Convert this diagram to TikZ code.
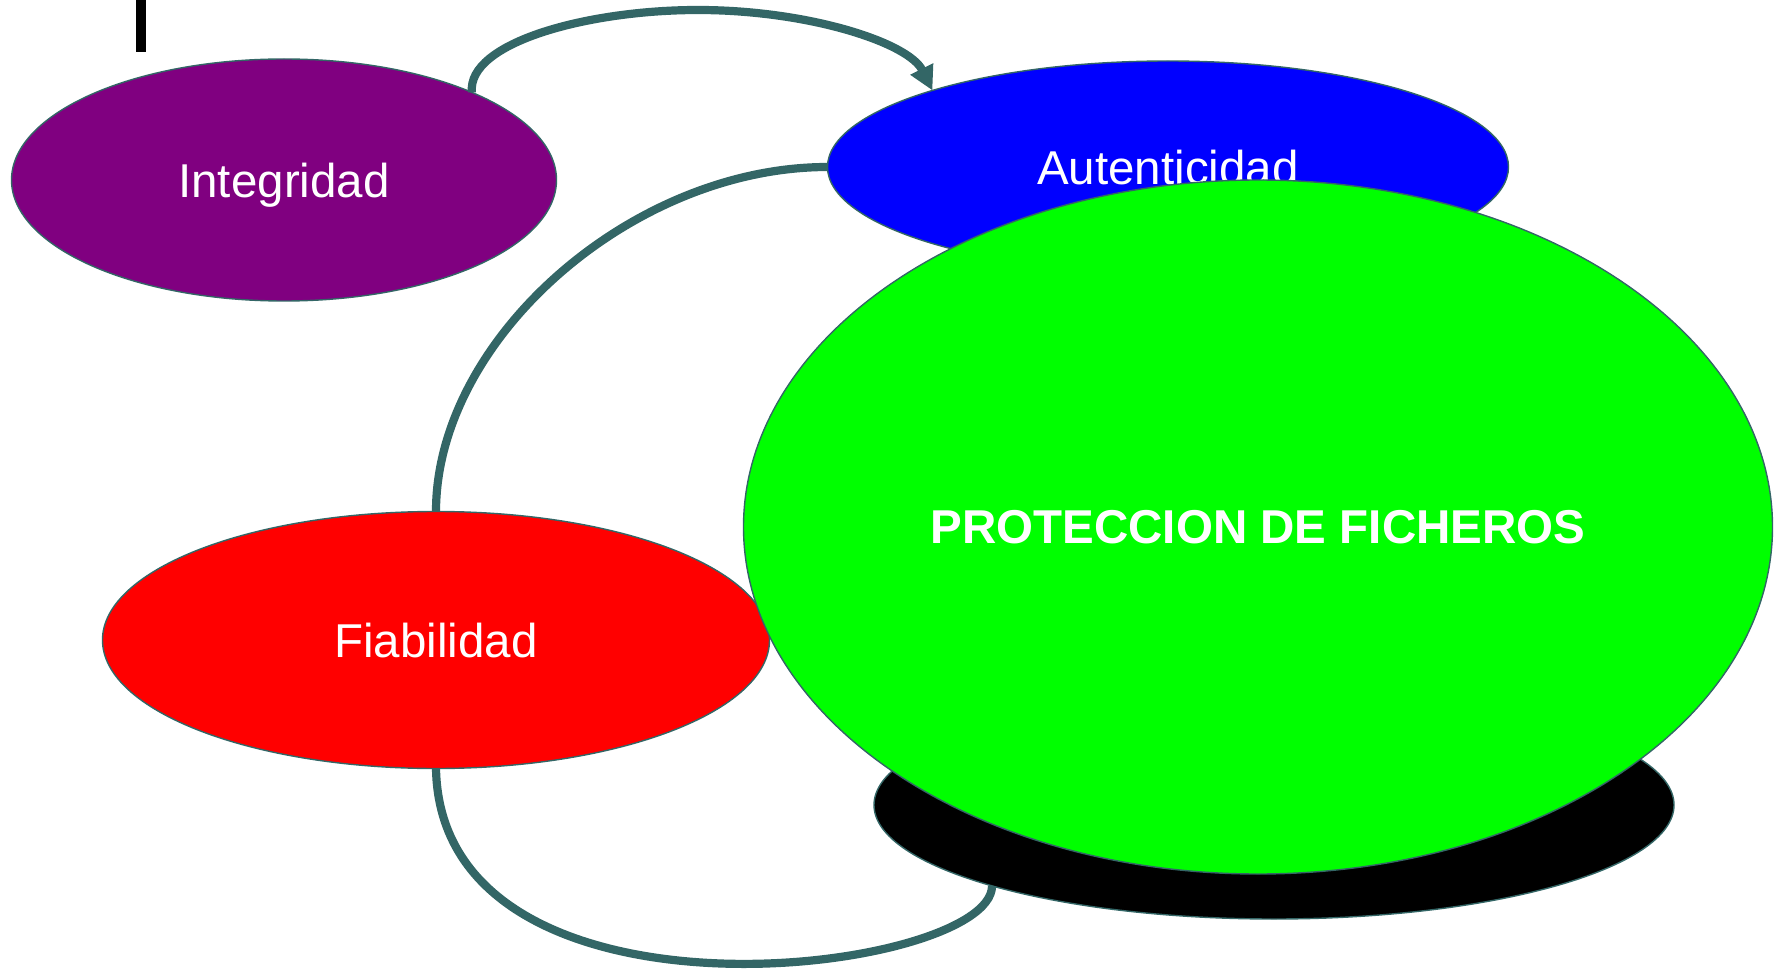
\documentclass[tikz,border=0pt]{standalone}
\usepackage{fontspec}
\setmainfont{Liberation Sans}
\usetikzlibrary{shapes.geometric,arrows.meta}
\definecolor{conn}{HTML}{336666}
\definecolor{purp}{HTML}{800080}
\definecolor{bluefill}{HTML}{0000FF}
\definecolor{greenfill}{HTML}{00FF00}
\definecolor{redfill}{HTML}{FF0000}
\begin{document}
\begin{tikzpicture}[x=0.5pt,y=-0.5pt,
  blob/.style={ellipse, draw=conn, line width=0.7pt, inner sep=0pt, outer sep=0pt,
    text depth=0pt, text=white, font=\fontsize{23.75pt}{28pt}\selectfont},
  link/.style={draw=conn, line width=4.1pt}]
\useasboundingbox (0,0) rectangle (1784,973);
\fill[black] (136,0) rectangle (146,52);
\node[blob, fill=purp, minimum width=272.5pt, minimum height=121pt] (integ) at (284,180) {Integridad};
\node[blob, fill=bluefill, minimum width=340.5pt, minimum height=106pt] (auth) at (1168,167) {Autenticidad};
\node[blob, fill=redfill, minimum width=333.5pt, minimum height=128.5pt] (fiab) at (436,640) {Fiabilidad};
\node[blob, fill=black, minimum width=400pt, minimum height=114pt] (shadow) at (1274,805) {};
\node[blob, fill=greenfill, minimum width=514.5pt, minimum height=347pt, font=\fontsize{23.75pt}{28pt}\selectfont\bfseries] (prot) at (1258,527) {PROTECCION DE FICHEROS};
\coordinate (peak) at (698,10);
\draw[link, -{Triangle[length=12pt,width=12pt]}] (integ.25) .. controls +(-5,-50) and +(-110,0) .. (peak)
  .. controls +(110,0) and +(-24,-48) .. (auth.162);
\draw[link] (auth.west) .. controls +(-196,0) and +(0,-172) .. (fiab.north);
\draw[link] (fiab.south) .. controls +(5,275) and +(0,88) .. (shadow.196);
\end{tikzpicture}
\end{document}
